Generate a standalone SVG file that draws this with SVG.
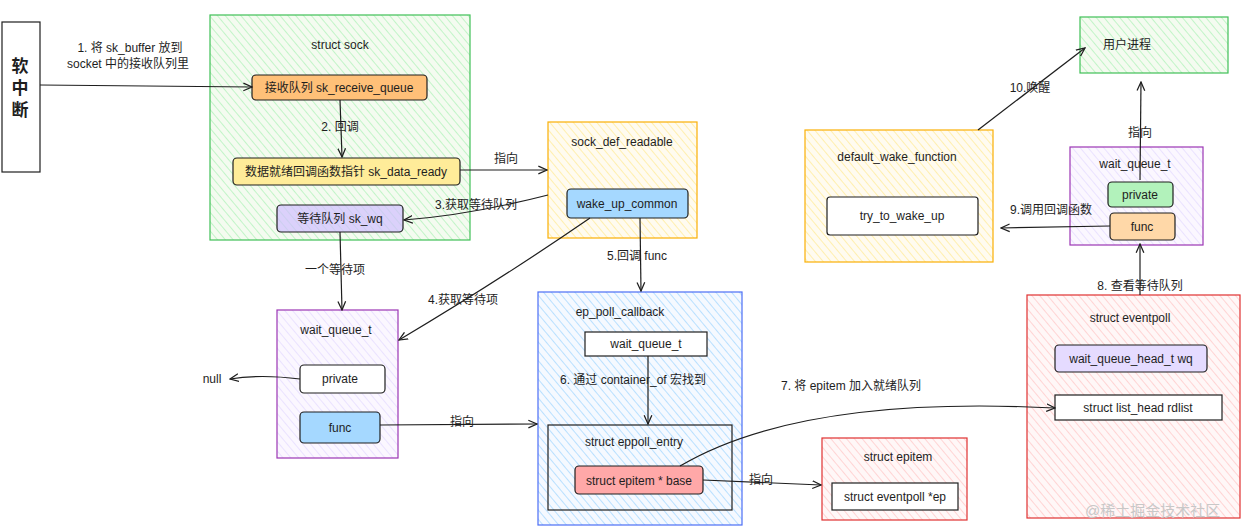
<svg xmlns="http://www.w3.org/2000/svg" width="1246" height="527" viewBox="0 0 1246 527">
<style>
text{font-family:"Liberation Sans","Noto Sans CJK SC",sans-serif;font-size:12px;fill:#1e1e1e}
.c{text-anchor:middle}
.b{stroke:#1e1e1e;stroke-width:1.2}
.ln{fill:none;stroke:#1e1e1e;stroke-width:1.2;marker-end:url(#a)}
</style>
<defs>
<marker id="a" viewBox="0 0 10 10" refX="9" refY="5" markerWidth="8" markerHeight="8" orient="auto"><path d="M0,1 L9,5 L0,9" fill="none" stroke="#1e1e1e" stroke-width="1.3"/></marker>
<pattern id="pg" width="6" height="6" patternUnits="userSpaceOnUse" patternTransform="rotate(-40)"><rect width="6" height="6" fill="#f4fbf0"/><line x1="0" y1="0" x2="0" y2="6" stroke="#b2f2bb" stroke-width="1.5"/></pattern>
<pattern id="py" width="6" height="6" patternUnits="userSpaceOnUse" patternTransform="rotate(-40)"><rect width="6" height="6" fill="#fffbf0"/><line x1="0" y1="0" x2="0" y2="6" stroke="#ffec99" stroke-width="1.5"/></pattern>
<pattern id="pb" width="6" height="6" patternUnits="userSpaceOnUse" patternTransform="rotate(-40)"><rect width="6" height="6" fill="#f5f9ff"/><line x1="0" y1="0" x2="0" y2="6" stroke="#a5d8ff" stroke-width="1.5"/></pattern>
<pattern id="pp" width="6" height="6" patternUnits="userSpaceOnUse" patternTransform="rotate(-40)"><rect width="6" height="6" fill="#fbf7ff"/><line x1="0" y1="0" x2="0" y2="6" stroke="#e5dbff" stroke-width="1.5"/></pattern>
<pattern id="pr" width="6" height="6" patternUnits="userSpaceOnUse" patternTransform="rotate(-40)"><rect width="6" height="6" fill="#fff7f7"/><line x1="0" y1="0" x2="0" y2="6" stroke="#ffc9c9" stroke-width="1.5"/></pattern>
</defs>
<rect width="1246" height="527" fill="#fff"/>

<g id="softirq"><rect x="2" y="22" width="38" height="150" fill="#fff" class="b" stroke-width="2"/><text class="c" x="20" y="72" style="font-size:17px;font-weight:bold">软</text><text class="c" x="20" y="94" style="font-size:17px;font-weight:bold">中</text><text class="c" x="20" y="116" style="font-size:17px;font-weight:bold">断</text></g>

<g id="sock"><rect x="210" y="15" width="260" height="225" fill="url(#pg)" stroke="#40c057" stroke-width="1.2"/><text class="c" x="340" y="49">struct sock</text>
<rect x="252" y="75" width="175" height="25" rx="4" fill="#ffc078" class="b"/><text class="c" x="339" y="92">接收队列 sk_receive_queue</text>
<rect x="233" y="158" width="227" height="27" rx="4" fill="#ffec99" class="b"/><text class="c" x="346" y="176">数据就绪回调函数指针 sk_data_ready</text>
<rect x="277" y="205" width="126" height="27" rx="4" fill="#d0bfff" class="b" fill-opacity="0.7"/><text class="c" x="340" y="223">等待队列 sk_wq</text></g>

<g id="sock_def_readable"><rect x="548" y="122" width="149" height="116" fill="url(#py)" stroke="#fab005" stroke-width="1.2"/><text class="c" x="622" y="146">sock_def_readable</text>
<rect x="567" y="189" width="121" height="29" rx="4" fill="#a5d8ff" class="b"/><text class="c" x="627" y="208">wake_up_common</text></g>

<g id="wait_queue_left"><rect x="277" y="310" width="121" height="148" fill="url(#pp)" stroke="#9c36b5" stroke-width="1.2"/><text class="c" x="336" y="334">wait_queue_t</text>
<rect x="300" y="365" width="85" height="28" rx="4" fill="#fff" class="b"/><text class="c" x="340" y="383">private</text>
<rect x="300" y="412" width="80" height="31" rx="4" fill="#a5d8ff" class="b"/><text class="c" x="340" y="432">func</text></g>
<text id="null" class="c" x="212" y="383">null</text>

<g id="ep_poll_callback"><rect x="538" y="292" width="204" height="233" fill="url(#pb)" stroke="#4c6ef5" stroke-width="1.2"/><text class="c" x="620" y="316">ep_poll_callback</text>
<rect x="585" y="332" width="122" height="24" fill="#fff" class="b"/><text class="c" x="646" y="348">wait_queue_t</text>
<rect x="548" y="425" width="184" height="85" fill="none" class="b"/><text class="c" x="634" y="446">struct eppoll_entry</text>
<rect x="575" y="466" width="128" height="28" rx="4" fill="#ffa8a8" class="b"/><text class="c" x="639" y="485">struct epitem * base</text></g>

<g id="epitem"><rect x="822" y="438" width="145" height="82" fill="url(#pr)" stroke="#e03131" stroke-width="1.2"/><text class="c" x="898" y="461">struct epitem</text>
<rect x="832" y="483" width="126" height="27" fill="#fff" class="b"/><text class="c" x="895" y="501">struct eventpoll *ep</text></g>

<g id="eventpoll"><rect x="1027" y="295" width="213" height="223" fill="url(#pr)" stroke="#e03131" stroke-width="1.2"/><text class="c" x="1130" y="322">struct eventpoll</text>
<rect x="1055" y="345" width="152" height="27" rx="4" fill="#e5dbff" class="b"/><text class="c" x="1131" y="363">wait_queue_head_t wq</text>
<rect x="1055" y="395" width="167" height="25" fill="#fff" class="b"/><text class="c" x="1138" y="412">struct list_head rdlist</text></g>

<g id="wait_queue_right"><rect x="1070" y="147" width="133" height="98" fill="url(#pp)" stroke="#9c36b5" stroke-width="1.2"/><text class="c" x="1135" y="168">wait_queue_t</text>
<rect x="1108" y="182" width="65" height="25" rx="4" fill="#b2f2bb" class="b"/><text class="c" x="1140" y="199">private</text>
<rect x="1110" y="213" width="65" height="27" rx="4" fill="#ffd8a8" class="b"/><text class="c" x="1142" y="231">func</text></g>

<g id="default_wake_function"><rect x="805" y="130" width="188" height="132" fill="url(#py)" stroke="#fab005" stroke-width="1.2"/><text class="c" x="897" y="161">default_wake_function</text>
<rect x="827" y="197" width="151" height="38" rx="3" fill="#fff" class="b"/><text class="c" x="902" y="220">try_to_wake_up</text></g>

<g id="user_process"><rect x="1080" y="17" width="148" height="56" fill="url(#pg)" stroke="#40c057" stroke-width="1.2"/><text class="c" x="1127" y="49">用户进程</text></g>

<g id="connectors">
<path class="ln" d="M40,85 L252,87"/>
<path class="ln" d="M340,100 L342,157"/>
<path class="ln" d="M460,170 L547,170"/>
<path class="ln" d="M548,195 Q470,215 404,220"/>
<path class="ln" d="M340,232 L342,310"/>
<path class="ln" d="M300,379 Q260,374 230,379"/>
<path class="ln" d="M590,218 Q500,280 399,340"/>
<path class="ln" d="M640,218 L641,291"/>
<path class="ln" d="M648,356 L648,424"/>
<path class="ln" d="M380,425 L537,424"/>
<path class="ln" d="M703,480 L821,485"/>
<path class="ln" d="M680,466 Q800,395 1055,408"/>
<path class="ln" d="M1140,295 L1140,244"/>
<path class="ln" d="M1110,226 L1001,228"/>
<path class="ln" d="M978,130 L1085,48"/>
<path class="ln" d="M1140,180 L1141,82"/>
</g>
<g id="labels">
<text class="c" x="130" y="52">1. 将 sk_buffer 放到</text><text class="c" x="128" y="68">socket 中的接收队列里</text>
<text class="c" x="340" y="131">2. 回调</text>
<text class="c" x="506" y="163">指向</text>
<text class="c" x="476" y="209">3.获取等待队列</text>
<text class="c" x="335" y="274">一个等待项</text>
<text class="c" x="463" y="304">4.获取等待项</text>
<text class="c" x="637" y="260">5.回调  func</text>
<text class="c" x="633" y="384">6. 通过 container_of 宏找到</text>
<text class="c" x="462" y="426">指向</text>
<text class="c" x="761" y="484">指向</text>
<text class="c" x="851" y="390">7. 将 epitem 加入就绪队列</text>
<text class="c" x="1140" y="290">8. 查看等待队列</text>
<text class="c" x="1051" y="214">9.调用回调函数</text>
<text class="c" x="1030" y="92">10.唤醒</text>
<text class="c" x="1140" y="137">指向</text>
</g>
<text x="1085" y="516" style="font-size:15px;fill:#c8c8c8">@稀土掘金技术社区</text>
</svg>
